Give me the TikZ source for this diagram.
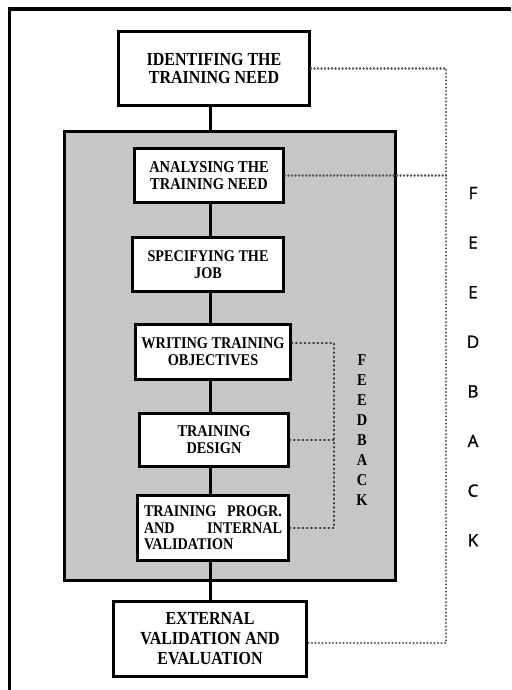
\documentclass[tikz,border=0pt]{standalone}
\usepackage{fontspec}
\setmainfont{Liberation Serif}
\newfontfamily\boxfont[FakeStretch=0.87]{Liberation Serif Bold}
\newfontfamily\letterfont[FakeBold=1.2]{Open Sans}
\definecolor{panelgray}{RGB}{198,198,198}
\definecolor{dotgray}{RGB}{85,85,85}
\begin{document}
\begin{tikzpicture}[x=1pt,y=-1pt,
  stagebox/.style={draw, line width=3pt, fill=white, inner sep=2pt, align=center},
  panel/.style={draw, line width=3pt, fill=panelgray},
  link/.style={line width=3pt},
  outerdots/.style={line width=2.3pt, line cap=round, dash pattern=on 0.1pt off 3.4pt, draw=dotgray},
  innerdots/.style={line width=2.7pt, line cap=round, dash pattern=on 0.1pt off 4.2pt, draw=black!85},
  outerletter/.style={font=\letterfont\fontsize{17}{17}\selectfont, inner sep=0pt},
  innerletter/.style={font=\boxfont\fontsize{16.5}{16.5}\selectfont, inner sep=0pt}
]
\useasboundingbox (0,0) rectangle (511,690);
\fill[white] (0,0) rectangle (511,690);

% frame edges
\coordinate (fa) at (9.5,690);
\coordinate (fb) at (9.5,9);
\coordinate (fc) at (511,9);
\draw[line width=3.6pt] (fa) -- (fb) -- (fc);

% shaded group of internal stages
\node[panel, minimum width=331pt, minimum height=449pt] (grp) at (230,356) {};

% stages
\node[stagebox, minimum width=191pt, minimum height=74pt,
      font=\boxfont\fontsize{18.4}{17.5}\selectfont] (b1) at (214,68.5)
      {IDENTIFING THE\\TRAINING NEED};
\node[stagebox, minimum width=149pt, minimum height=54pt,
      font=\boxfont\fontsize{16.6}{17.5}\selectfont] (b2) at (209,175.5)
      {ANALYSING THE\\TRAINING NEED};
\node[stagebox, minimum width=151pt, minimum height=54pt,
      font=\boxfont\fontsize{16.3}{17.5}\selectfont] (b3) at (208,264.5)
      {SPECIFYING THE\\JOB};
\node[stagebox, minimum width=155pt, minimum height=55pt,
      font=\boxfont\fontsize{16.4}{17.2}\selectfont] (b4) at (213,352)
      {WRITING TRAINING\\OBJECTIVES};
\node[stagebox, minimum width=149pt, minimum height=53pt,
      font=\boxfont\fontsize{16.4}{17.2}\selectfont] (b5) at (214,440)
      {TRAINING\\DESIGN};
\node[stagebox, minimum width=151pt, minimum height=65pt, align=left,
      font=\boxfont\fontsize{16.3}{16.7}\selectfont] (b6) at (213,528)
      {\makebox[138pt][s]{TRAINING PROGR.}\\\makebox[138pt][s]{AND INTERNAL}\\VALIDATION};
\node[stagebox, minimum width=193pt, minimum height=75pt,
      font=\boxfont\fontsize{18.4}{20}\selectfont] (b7) at (210,639)
      {EXTERNAL\\VALIDATION AND\\EVALUATION};

% connectors along the spine
\coordinate (spine) at (210,0);
\draw[link] (spine |- b1.south) -- (spine |- grp.north);
\draw[link] (spine |- b2.south) -- (spine |- b3.north);
\draw[link] (spine |- b3.south) -- (spine |- b4.north);
\draw[link] (spine |- b4.south) -- (spine |- b5.north);
\draw[link] (spine |- b5.south) -- (spine |- b6.north);
\draw[link] (spine |- b6.south) -- (spine |- grp.south);
\draw[link] (spine |- grp.south) -- (spine |- b7.north);

% outer feedback loop
\coordinate (rail) at (446,0);
\coordinate (b7fb) at ([yshift=-4pt]b7.east);
\draw[outerdots] (b1.east) -- (b1.east -| rail) -- (b7fb -| rail) -- (b7fb);
\draw[outerdots] (b2.east) -- (b2.east -| rail);

% inner feedback loop
\coordinate (irail) at (334,0);
\coordinate (b4fb) at ([yshift=9pt]b4.east);
\draw[innerdots] (b4fb) -- (b4fb -| irail) -- (b6.east -| irail) -- (b6.east);
\draw[innerdots] (b5.east) -- (b5.east -| irail);

% feedback labels
\foreach \ch [count=\i] in {F,E,E,D,B,A,C,K} {
  \node[outerletter] (of\i) at (473,{193+(\i-1)*49.6}) {\ch};
  \node[innerletter] (if\i) at (362,{360+(\i-1)*20}) {\ch};
}
\end{tikzpicture}
\end{document}
